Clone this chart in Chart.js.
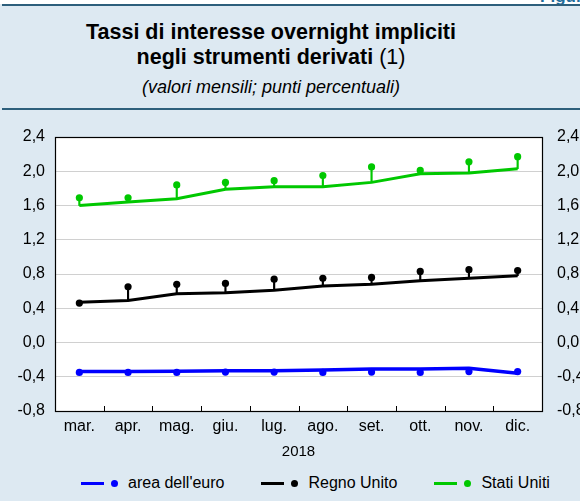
<!DOCTYPE html>
<html lang="it">
<head>
<meta charset="utf-8">
<title>Tassi di interesse overnight impliciti</title>
<script src="https://cdn.jsdelivr.net/npm/chart.js@4.4.1/dist/chart.umd.min.js"></script>
<style>
    html, body { margin: 0; padding: 0; }
    body {
        width: 580px; height: 501px; overflow: hidden; position: relative;
        background: #dde9f2;
        font-family: "Liberation Sans", Arial, Helvetica, sans-serif;
        color: #000;
    }
    .topstrip { position: absolute; left: 0; top: 0; width: 580px; height: 4px; background: #fff; }
    .figura { position: absolute; right: -12px; top: -13px; font-size: 17px; font-weight: bold; color: #1f6d9b; }
    .rule { position: absolute; left: 2px; right: 0; height: 2px; background: #2d5f7c; }
    .title { position: absolute; left: 0; width: 542px; text-align: center; white-space: nowrap; }
    .t1 { top: 19px; font-size: 21.5px; font-weight: bold; line-height: 27px; }
    .t2 { top: 44px; font-size: 21.5px; font-weight: bold; line-height: 27px; }
    .t2 span { font-weight: normal; }
    .t3 { top: 74px; font-size: 18px; font-style: italic; line-height: 27px; }
    #chart { position: absolute; left: 0; top: 110px; }
    .legend { position: absolute; left: 81px; top: 474px; display: flex; gap: 37px; font-size: 16px; line-height: 18px; }
    .legend-item { display: flex; align-items: center; }
    .legend-line { width: 23px; height: 3px; margin-right: 7px; }
    .legend-dot { width: 7px; height: 7px; border-radius: 50%; margin-right: 10px; }
</style>
</head>
<body>
<div class="topstrip"></div>
<div class="figura">Figura</div>
<div class="rule" style="top:4px"></div>
<div class="title t1">Tassi di interesse overnight impliciti</div>
<div class="title t2">negli strumenti derivati <span>(1)</span></div>
<div class="title t3">(valori mensili; punti percentuali)</div>
<div class="rule" style="top:108px; height:1.5px"></div>

<canvas id="chart" width="580" height="360"></canvas>
<div class="legend" id="legend"></div>

<script>
// --- DATA ---
const months = ['mar.', 'apr.', 'mag.', 'giu.', 'lug.', 'ago.', 'set.', 'ott.', 'nov.', 'dic.'];
const yearLabel = '2018';
const yTicks = [-0.8, -0.4, 0.0, 0.4, 0.8, 1.2, 1.6, 2.0, 2.4];

const seriesNames = ["area dell'euro", 'Regno Unito', 'Stati Uniti'];
const seriesColors = ['#0000ff', '#000000', '#00c800'];

// lines: implied path; dots: monthly values
const euroLine = [-0.34, -0.34, -0.335, -0.33, -0.33, -0.32, -0.31, -0.31, -0.30, -0.36];
const euroDot  = [-0.35, -0.35, -0.35, -0.345, -0.345, -0.35, -0.345, -0.35, -0.34, -0.34];
const ukLine   = [0.47, 0.49, 0.57, 0.58, 0.61, 0.66, 0.68, 0.72, 0.75, 0.78];
const ukDot    = [0.46, 0.65, 0.68, 0.69, 0.74, 0.75, 0.76, 0.83, 0.85, 0.84];
const usLine   = [1.60, 1.64, 1.68, 1.79, 1.82, 1.82, 1.87, 1.97, 1.98, 2.03];
const usDot    = [1.69, 1.69, 1.84, 1.87, 1.89, 1.95, 2.05, 2.01, 2.11, 2.17];

const lines = [euroLine, ukLine, usLine];
const dots = [euroDot, ukDot, usDot];

const FONT = '"Liberation Sans", Arial, Helvetica, sans-serif';
const fmt = v => {
    const r = Math.round(v * 10) / 10;
    return (Math.abs(r) < 1e-9 ? 0 : r).toFixed(1).replace('.', ',');
};

// --- DATASETS ---
const datasets = [];
lines.forEach((vals, i) => {
    datasets.push({
        type: 'bar',
        label: seriesNames[i] + ' stem',
        data: vals.map((v, k) => [v, dots[i][k]]),
        backgroundColor: seriesColors[i],
        barThickness: 1.5,
        grouped: false,
        order: 3
    });
    datasets.push({
        type: 'line',
        label: seriesNames[i],
        data: vals,
        borderColor: seriesColors[i],
        borderWidth: i === 0 ? 3.5 : 3,
        pointRadius: 0,
        tension: 0,
        fill: false,
        order: 2
    });
    datasets.push({
        type: 'line',
        label: seriesNames[i] + ' punti',
        data: dots[i],
        showLine: false,
        pointRadius: 3.6,
        pointBackgroundColor: seriesColors[i],
        pointBorderWidth: 0,
        order: 1
    });
});

// white plot area, frame and inward tick marks
const framePlugin = {
    id: 'frame',
    beforeDraw(chart) {
        const { ctx, chartArea: a } = chart;
        ctx.save();
        ctx.fillStyle = '#ffffff';
        ctx.fillRect(a.left, a.top, a.right - a.left, a.bottom - a.top);
        ctx.restore();
    },
    afterDatasetsDraw(chart) {
        const { ctx, chartArea: a } = chart;
        const x = chart.scales.x;
        ctx.save();
        ctx.strokeStyle = '#000';
        ctx.lineWidth = 1;
        for (let i = 0; i < months.length - 1; i++) {
            const px = Math.round((x.getPixelForValue(i) + x.getPixelForValue(i + 1)) / 2) + 0.5;
            ctx.beginPath();
            ctx.moveTo(px, a.bottom);
            ctx.lineTo(px, a.bottom - 5);
            ctx.stroke();
        }
        ctx.lineWidth = 1.2;
        ctx.strokeRect(Math.round(a.left) + 0.5, Math.round(a.top) + 0.5,
            Math.round(a.right - a.left), Math.round(a.bottom - a.top));
        ctx.restore();
    }
};

const yScale = (position, width, padding) => ({
    type: 'linear',
    position: position,
    min: -0.8,
    max: 2.4,
    afterBuildTicks: s => { s.ticks = yTicks.map(v => ({ value: v })); },
    afterFit: s => { s.width = width; },
    grid: { display: position === 'left', color: '#d0d0d0', lineWidth: 1, drawTicks: false },
    border: { display: false },
    ticks: {
        padding: padding,
        color: '#000',
        font: { family: FONT, size: 16 },
        callback: v => fmt(v)
    }
});

new Chart(document.getElementById('chart'), {
    type: 'line',
    data: { labels: months, datasets: datasets },
    options: {
        responsive: false,
        animation: false,
        layout: { padding: { top: 27, left: 0, right: 0, bottom: 0 } },
        plugins: {
            legend: { display: false },
            tooltip: { enabled: false }
        },
        scales: {
            x: {
                type: 'category',
                offset: true,
                afterFit: s => { s.height = 59; },
                grid: { display: false, drawTicks: false },
                border: { display: false },
                ticks: {
                    padding: 6,
                    color: '#000',
                    maxRotation: 0,
                    autoSkip: false,
                    font: { family: FONT, size: 16 }
                },
                title: {
                    display: true,
                    text: yearLabel,
                    color: '#000',
                    font: { family: FONT, size: 15 },
                    padding: { top: 4, bottom: 9 }
                }
            },
            y: yScale('left', 55, 10),
            y2: yScale('right', 38, 15)
        }
    },
    plugins: [framePlugin]
});

// --- LEGEND ---
const legend = document.getElementById('legend');
seriesNames.forEach((name, i) => {
    const item = document.createElement('div');
    item.className = 'legend-item';
    item.innerHTML = '<span class="legend-line" style="background:' + seriesColors[i] + '"></span>' +
        '<span class="legend-dot" style="background:' + seriesColors[i] + '"></span>' +
        '<span>' + name + '</span>';
    legend.appendChild(item);
});
</script>
</body>
</html>
